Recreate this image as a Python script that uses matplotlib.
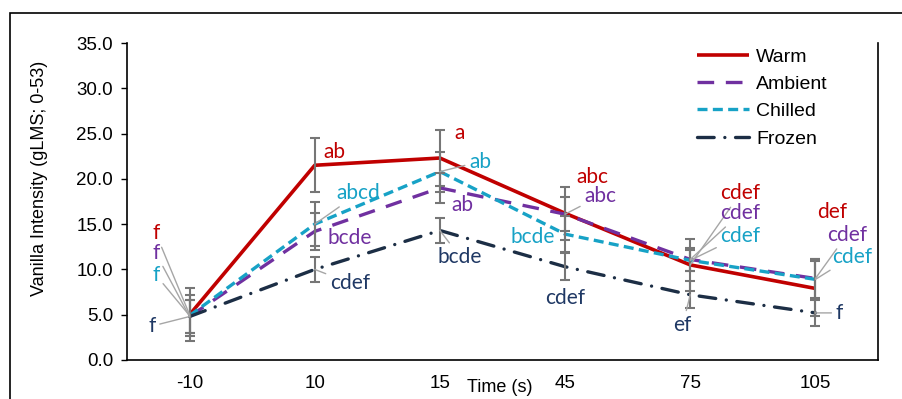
import matplotlib.pyplot as plt
from matplotlib.patches import Rectangle

# data
times = ["-10", "10", "15", "45", "75", "105"]
series = ["Warm", "Ambient", "Chilled", "Frozen"]

warm = [5.0, 21.5, 22.3, 16.2, 10.5, 7.9]
ambient = [4.8, 14.2, 19.0, 16.1, 11.1, 9.0]
chilled = [4.9, 15.0, 20.8, 13.9, 11.0, 8.9]
frozen = [4.8, 10.0, 14.3, 10.3, 7.2, 5.2]

warm_err = [2.9, 3.0, 3.1, 2.9, 2.9, 3.0]
ambient_err = [1.8, 2.0, 1.7, 1.9, 1.3, 2.1]
chilled_err = [2.3, 2.4, 2.2, 2.0, 1.2, 2.2]
frozen_err = [1.8, 1.4, 1.4, 1.5, 1.5, 1.4]

# significance letters
warm_sig = ["f", "ab", "a", "abc", "cdef", "def"]
ambient_sig = ["f", "bcde", "ab", "abc", "cdef", "cdef"]
chilled_sig = ["f", "abcd", "ab", "bcde", "cdef", "cdef"]
frozen_sig = ["f", "cdef", "bcde", "cdef", "ef", "f"]

# styling
line_cols = ["#C00000", "#7030A0", "#17A2C6", "#1C2E45"]
text_cols = ["#C00000", "#7030A0", "#17A2C6", "#1F3864"]
dash_styles = [None, (5, 3.5), (3, 1.6), (5, 3.2, 0.01, 3.2)]
widths = [2.6, 2.4, 2.4, 2.4]

# label positions (x, y) in data units, and whether a leader line is drawn
label_pos = [
    [(-0.27, 14.0), (1.16, 23.0), (2.16, 25.1), (3.22, 20.2), (4.40, 18.4), (5.13, 16.3)],
    [(-0.27, 11.8), (1.28, 13.5), (2.18, 17.1), (3.28, 18.1), (4.40, 16.2), (5.25, 13.8)],
    [(-0.27, 9.4), (1.35, 18.4), (2.32, 21.9), (2.74, 13.6), (4.40, 13.7), (5.29, 11.4)],
    [(-0.30, 3.75), (1.28, 8.5), (2.16, 11.4), (3.0, 6.8), (3.94, 3.9), (5.19, 5.2)],
]
leader = [
    [1, 0, 0, 0, 1, 0],
    [1, 0, 0, 1, 1, 1],
    [1, 1, 1, 0, 1, 1],
    [1, 1, 1, 0, 1, 1],
]

values = [warm, ambient, chilled, frozen]
errors = [warm_err, ambient_err, chilled_err, frozen_err]
sigs = [warm_sig, ambient_sig, chilled_sig, frozen_sig]

plt.rcParams["font.family"] = ["Liberation Sans", "DejaVu Sans"]

fig = plt.figure(figsize=(9.03, 3.99), dpi=100)
ax = fig.add_axes([127 / 903, 1 - 360 / 399, (878 - 127) / 903, (360 - 43) / 399])

x = list(range(len(times)))
for i, name in enumerate(series):
    ln, = ax.plot(x, values[i], color=line_cols[i], lw=widths[i], label=name,
                  zorder=2, solid_capstyle="butt")
    if dash_styles[i] is not None:
        ln.set_dashes(dash_styles[i])
        ln.set_dash_capstyle("round" if i == 3 else "butt")
    ax.errorbar(x, values[i], yerr=errors[i], fmt="none", ecolor="#767676",
                elinewidth=1.5, capsize=3.5, capthick=1.5, zorder=3)

for i in range(len(series)):
    for j in range(len(times)):
        lx, ly = label_pos[i][j]
        arrow = None
        if leader[i][j]:
            arrow = dict(arrowstyle="-", color="#A6A6A6", lw=1, shrinkA=1, shrinkB=0)
        ax.annotate(sigs[i][j], xy=(x[j], values[i][j]), xytext=(lx, ly),
                    textcoords="data", ha="center", va="center",
                    color=text_cols[i], fontsize=15, family=["Lato", "DejaVu Sans"],
                    arrowprops=arrow, zorder=4)

ax.set_xlim(-0.5, 5.5)
ax.set_ylim(0, 35)
ax.set_yticks([0, 5, 10, 15, 20, 25, 30, 35])
ax.set_yticklabels(["%.1f" % v for v in [0, 5, 10, 15, 20, 25, 30, 35]], fontsize=13.5)
ax.set_xticks(x)
ax.set_xticklabels(times, fontsize=13.5, family=["Liberation Sans Narrow", "Liberation Sans"])
ax.tick_params(axis="y", direction="out", length=4, width=1, pad=6)
ax.tick_params(axis="x", length=0, pad=11)
ax.spines["top"].set_visible(False)
for s in ["left", "bottom", "right"]:
    ax.spines[s].set_linewidth(1.2)
    ax.spines[s].set_color("black")

fig.text(40 / 903, 1 - 178 / 399, "Vanilla Intensity (gLMS; 0-53)", rotation=90,
         ha="center", va="center", fontsize=13)
fig.text(500 / 903, 1 - 388 / 399, "Time (s)", ha="center", va="center",
         fontsize=13, family=["Liberation Sans Narrow", "Liberation Sans"])

ax.legend(loc="upper left", bbox_to_anchor=(697 / 903, 1 - 48 / 399),
          bbox_transform=fig.transFigure, frameon=False, fontsize=14,
          handlelength=2.7, handletextpad=0.35, labelspacing=0.5,
          borderpad=0, borderaxespad=0)

# outer chart border
fig.patches.append(Rectangle((10 / 903, -0.1), 1.1, 1 - 13 / 399 + 0.1,
                             transform=fig.transFigure, fill=False,
                             edgecolor="black", lw=1.2))

fig.savefig("out.png", dpi=100)
